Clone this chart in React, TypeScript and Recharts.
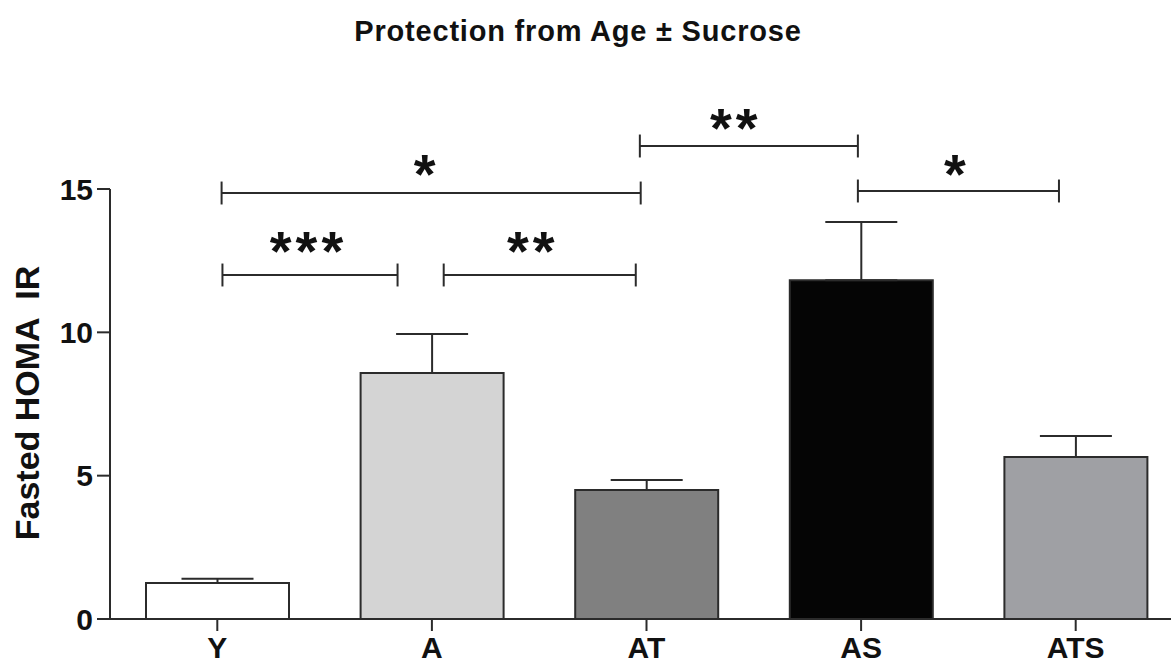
import React from 'react';
import { BarChart, Bar, XAxis, YAxis, ErrorBar, Cell, ReferenceLine, ReferenceDot } from 'recharts';

// Data
const groups = ['Y', 'A', 'AT', 'AS', 'ATS'];
const means = [1.26, 8.58, 4.5, 11.82, 5.65];
const sems = [0.14, 1.36, 0.35, 2.03, 0.73];
const fills = ['#ffffff', '#d4d4d4', '#808080', '#050505', '#9fa0a4'];
const yTicks = [0, 5, 10, 15];

// Significance brackets (x in group-index units, group centres at 0..4; y in data units)
const bracketStart = [0.024, 1.055, 0.02, 1.969, 2.985];
const bracketEnd = [0.84, 1.95, 1.973, 2.985, 3.922];
const bracketLevel = [12.0, 12.0, 14.86, 16.5, 14.93];
const bracketStars = ['***', '**', '*', '**', '*'];
const starX = [0.425, 1.47, 0.976, 2.416, 3.446];
const starLevel = [13.25, 13.25, 15.95, 17.55, 15.95];
const tickHalf = 0.4;

const data = groups.map((g, i) => ({ name: g, idx: i, value: means[i], err: [0, sems[i]] }));

const FONT = '"Liberation Sans", Arial, Helvetica, sans-serif';
const INK = '#2b2b2b';

const StarShape = (text: string) => (p: any) => (
  <text
    x={p.cx}
    y={p.cy + 31}
    textAnchor="middle"
    fontFamily={FONT}
    fontWeight="bold"
    fontSize={56}
    letterSpacing={4}
    fill="#111"
  >
    {text}
  </text>
);

export default function App() {
  return (
    <div style={{ position: 'absolute', left: 0, top: 0, width: 1171, height: 664, overflow: 'hidden', background: '#fff' }}>
      <BarChart
        width={1183}
        height={664}
        data={data}
        margin={{ top: 189, right: 0, bottom: 5, left: 10 }}
        barSize={143}
      >
        <XAxis
          dataKey="name"
          axisLine={{ stroke: INK, strokeWidth: 2 }}
          tickLine={{ stroke: INK, strokeWidth: 2 }}
          tickSize={12}
          tickMargin={6}
          height={40}
          interval={0}
          tick={{ fontFamily: FONT, fontWeight: 'bold', fontSize: 30, fill: '#111' }}
        />
        <XAxis xAxisId="pos" dataKey="idx" type="number" domain={[-0.5, 4.5]} allowDataOverflow hide />
        <YAxis
          domain={[0, 15]}
          ticks={yTicks}
          width={100}
          axisLine={{ stroke: INK, strokeWidth: 2 }}
          tickLine={{ stroke: INK, strokeWidth: 2 }}
          tickSize={13}
          tickMargin={4}
          tick={{ fontFamily: FONT, fontWeight: 'bold', fontSize: 30, fill: '#111' }}
        />
        <Bar dataKey="value" stroke={INK} strokeWidth={2} isAnimationActive={false}>
          {data.map((d, i) => (
            <Cell key={d.name} fill={fills[i]} />
          ))}
          <ErrorBar dataKey="err" width={36} stroke={INK} strokeWidth={2} direction="y" isAnimationActive={false} />
        </Bar>
        {bracketStart.map((s, i) => (
          <ReferenceLine
            key={'h' + i}
            xAxisId="pos"
            ifOverflow="visible"
            segment={[{ x: s, y: bracketLevel[i] }, { x: bracketEnd[i], y: bracketLevel[i] }]}
            stroke={INK}
            strokeWidth={2}
          />
        ))}
        {bracketStart.map((s, i) => (
          <ReferenceLine
            key={'l' + i}
            xAxisId="pos"
            ifOverflow="visible"
            segment={[{ x: s, y: bracketLevel[i] - tickHalf }, { x: s, y: bracketLevel[i] + tickHalf }]}
            stroke={INK}
            strokeWidth={2}
          />
        ))}
        {bracketEnd.map((e, i) => (
          <ReferenceLine
            key={'r' + i}
            xAxisId="pos"
            ifOverflow="visible"
            segment={[{ x: e, y: bracketLevel[i] - tickHalf }, { x: e, y: bracketLevel[i] + tickHalf }]}
            stroke={INK}
            strokeWidth={2}
          />
        ))}
        {bracketStars.map((t, i) => (
          <ReferenceDot
            key={'s' + i}
            xAxisId="pos"
            x={starX[i]}
            y={starLevel[i]}
            r={0}
            ifOverflow="visible"
            shape={StarShape(t)}
          />
        ))}
      </BarChart>
      <div
        style={{
          position: 'absolute', left: 0, top: 14, width: 1156, textAlign: 'center',
          fontFamily: FONT, fontWeight: 'bold', fontSize: 29, letterSpacing: 0.8, color: '#111', lineHeight: '34px',
        }}
      >
        Protection from Age ± Sucrose
      </div>
      <div
        style={{
          position: 'absolute', left: 27, top: 403, width: 0, height: 0,
        }}
      >
        <div
          style={{
            position: 'absolute', left: 0, top: 0, transform: 'translate(-50%, -50%) rotate(-90deg)',
            whiteSpace: 'pre', fontFamily: FONT, fontWeight: 'bold', fontSize: 34, color: '#111', lineHeight: '38px',
          }}
        >
          {'Fasted HOMA  IR'}
        </div>
      </div>
    </div>
  );
}
